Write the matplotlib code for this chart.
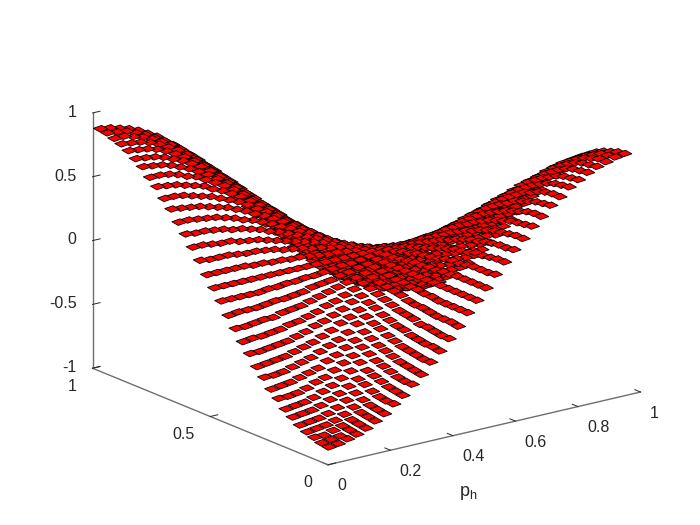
import numpy as np
import matplotlib
matplotlib.use("Agg")
import matplotlib.pyplot as plt
from mpl_toolkits.mplot3d.art3d import Poly3DCollection

plt.rcParams['font.family'] = ['Liberation Sans', 'DejaVu Sans']
plt.rcParams['mathtext.default'] = 'regular'

# Tile heights, front quadrant, in hundredths.
# Row = step along y, column = step along p_h; the surface is a saddle whose
# other quadrants repeat these values with the sign of the neighbouring corner.
quadrant = [
    [88,87,85,83,80,76,72,66,61,54,48,40,33,25,17,8,0],
    [87,86,85,82,79,75,71,66,60,54,47,40,32,25,16,8,0],
    [85,85,83,81,78,74,70,65,59,53,46,39,32,24,16,8,0],
    [83,82,81,79,76,72,68,63,57,51,45,38,31,23,16,8,0],
    [80,79,78,76,73,69,65,60,55,49,43,37,30,23,15,8,0],
    [76,75,74,72,69,66,62,58,53,47,41,35,28,21,14,7,0],
    [72,71,70,68,65,62,58,54,49,44,39,33,27,20,14,7,0],
    [66,66,65,63,60,58,54,50,46,41,36,30,25,19,13,6,0],
    [61,60,59,57,55,53,49,46,42,38,33,28,23,17,11,6,0],
    [54,54,53,51,49,47,44,41,38,34,29,25,20,15,10,5,0],
    [48,47,46,45,43,41,39,36,33,29,26,22,18,13,9,5,0],
    [40,40,39,38,37,35,33,30,28,25,22,18,15,11,8,4,0],
    [33,32,32,31,30,28,27,25,23,20,18,15,12,9,6,3,0],
    [25,25,24,23,23,21,20,19,17,15,13,11,9,7,5,2,0],
    [17,16,16,16,15,14,14,13,12,10,9,8,6,5,3,2,0],
    [8,8,8,8,8,7,7,6,6,5,5,4,3,2,2,1,0],
    [0,0,0,0,0,0,0,0,0,0,0,0,0,0,0,0,0],
]
x_ticks = [0, 0.2, 0.4, 0.6, 0.8, 1]
x_labels = ['0', '0.2', '0.4', '0.6', '0.8', '1']
y_ticks = [0, 0.5, 1]
y_labels = ['0', '0.5', '1']
z_ticks = [-1, -0.5, 0, 0.5, 1]
z_labels = ['-1', '-0.5', '0', '0.5', '1']
x_label = 'p$_{h}$'
x_end = 0.975
y_end = 1.0
lean = 0.004
fill = 0.9

q = np.array(quadrant, dtype=float) / 100
top = np.hstack([-q, -q[:, -2::-1] * -1])
Z = np.vstack([top, -top[-2::-1]])
n = Z.shape[0]
x_edges = np.linspace(0, x_end, n + 1)
y_edges = np.linspace(0, y_end, n + 1)
dx = x_edges[1] * (1 - fill) / 2
dy = y_edges[1] * (1 - fill) / 2

tiles = []
for j in range(n):
    for i in range(n):
        h = Z[j, i]
        x0, x1 = x_edges[i] + dx, x_edges[i + 1] - dx
        y0, y1 = y_edges[j] + dy, y_edges[j + 1] - dy
        tiles.append([(x0, y0, h - 2 * lean), (x1, y0, h), (x1, y1, h + 2 * lean), (x0, y1, h)])

fig = plt.figure(figsize=(7, 5.25), dpi=100)
W = 500
ax = fig.add_axes([109.75 / 700, 15.75 / 525, W / 700, W / 525], projection='3d', proj_type='ortho')
ax.view_init(elev=18, azim=-127)
ax.set_box_aspect((1, 1, 0.686), zoom=1.194)
ax.set_xlim(0, 1)
ax.set_ylim(0, 1)
ax.set_zlim(-1, 1)

surface = Poly3DCollection(tiles, facecolors='#ff0000', edgecolors='black', linewidths=0.6)
ax.add_collection3d(surface)
surface.set_clip_on(False)

ax.set_xticks(x_ticks, labels=x_labels)
ax.set_yticks(y_ticks, labels=y_labels)
ax.set_zticks(z_ticks, labels=z_labels)
ax.grid(False)
for axis in (ax.xaxis, ax.yaxis, ax.zaxis):
    axis.pane.fill = False
    axis.pane.set_edgecolor('none')
    axis.line.set_color('#6e6e6e')
    axis.line.set_linewidth(1.0)
    axis._axinfo['tick']['inward_factor'] = 0
    axis._axinfo['tick']['outward_factor'] = 0.3
    axis._axinfo['tick']['linewidth'] = {True: 0.7, False: 0.5}
    axis._axinfo['tick']['color'] = '#6e6e6e'
ax.tick_params(axis='both', colors='#262626', labelsize=11.5)
ax.tick_params(axis='x', pad=-0.8)
ax.tick_params(axis='y', pad=1.5)
ax.tick_params(axis='z', pad=-2.5)
for t in ax.xaxis.get_ticklabels():
    t.set_ha('left')
for t in ax.yaxis.get_ticklabels():
    t.set_ha('right')
    t.set_va('center_baseline')
for t in ax.zaxis.get_ticklabels():
    t.set_ha('right')
    t.set_va('center')
fig.text(459 / 700, 1 - 496 / 525, x_label, fontsize=13, color='#262626', va='baseline')

fig.savefig('out.png', dpi=100, facecolor='white')
